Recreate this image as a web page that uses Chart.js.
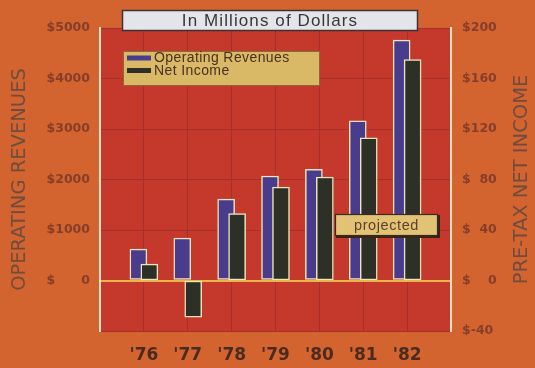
<!DOCTYPE html>
<html><head><meta charset="utf-8">
<script src="https://cdn.jsdelivr.net/npm/chart.js@4"></script>
<style>html,body{margin:0;padding:0;background:#d3642f;overflow:hidden}#wrap{width:535px;height:368px}</style>
</head><body><div id="wrap"><canvas id="c" width="535" height="368"></canvas></div>
<script>
const years = ["'76", "'77", "'78", "'79", "'80", "'81", "'82"];
const revenues = [620, 840, 1610, 2070, 2200, 3160, 4760];
const netIncome = [13, -29, 53, 74, 82, 113, 175];
const leftTickLabels = ['', '$      0', '$1000', '$2000', '$3000', '$4000', '$5000'];
const rightTickLabels = ['$-40', '$    0', '$  40', '$  80', '$120', '$160', '$200'];
const seriesLabels = ['Operating Revenues', 'Net Income'];
const titleText = 'In Millions of Dollars';
const leftAxisTitle = 'OPERATING REVENUES';
const rightAxisTitle = 'PRE-TAX NET INCOME';
const noteText = 'projected';

const BLUE = '#4a3c8c', DARK = '#2c3027', EDGE = '#efe4b8';
const GRID = '#a8302a', PLOT = '#c4392c';
const OFF = 0.125;

const decor = {
  id: 'decor',
  beforeDraw(chart) {
    const {ctx, chartArea: a} = chart;
    ctx.save();
    ctx.fillStyle = PLOT;
    ctx.fillRect(a.left, a.top, a.right - a.left, a.bottom - a.top);
    ctx.restore();
  },
  afterDatasetsDraw(chart) {
    const {ctx} = chart;
    ctx.save();
    const x = 335, y = 214, w = 103, h = 22;
    ctx.fillStyle = '#3a2418';
    ctx.fillRect(x + 1, y + 1, w + 1, h + 1);
    ctx.fillStyle = '#e2c274';
    ctx.fillRect(x, y, w, h);
    ctx.strokeStyle = '#3a2a20';
    ctx.lineWidth = 1.2;
    ctx.strokeRect(x + 0.5, y + 0.5, w - 1, h - 1);
    ctx.fillStyle = '#5e3e2c';
    ctx.font = '14.5px "Liberation Sans"';
    ctx.letterSpacing = '0.6px';
    ctx.textAlign = 'center';
    ctx.textBaseline = 'middle';
    ctx.fillText(noteText, x + w / 2, y + h / 2 + 0.5);
    ctx.restore();
  },
  afterDraw(chart) {
    const {ctx} = chart;
    ctx.save();
    ctx.fillStyle = '#e3e5ea';
    ctx.fillRect(122, 10, 296, 21);
    ctx.strokeStyle = '#3c3232';
    ctx.lineWidth = 1.5;
    ctx.strokeRect(122.5, 10.5, 295, 20);
    ctx.fillStyle = '#3a3636';
    ctx.font = '17px "Liberation Sans"';
    ctx.letterSpacing = '1.1px';
    ctx.textAlign = 'center';
    ctx.textBaseline = 'middle';
    ctx.fillText(titleText, 270, 21);
    ctx.letterSpacing = '0.4px';
    ctx.fillStyle = '#d9b866';
    ctx.fillRect(123, 51, 197, 35);
    ctx.strokeStyle = '#8a6838';
    ctx.lineWidth = 1;
    ctx.strokeRect(123.5, 51.5, 196, 34);
    const ds = chart.data.datasets;
    ctx.font = '14px "Liberation Sans"';
    ctx.textAlign = 'left';
    ds.forEach((d, i) => {
      const yy = 58 + i * 12.5;
      ctx.fillStyle = d.backgroundColor;
      ctx.fillRect(127, yy - 2.5, 24, 5);
      ctx.fillStyle = '#4a3020';
      ctx.fillText(d.label, 154, yy + 0.5);
    });
    ctx.letterSpacing = '0px';
    ctx.translate(522, (chart.chartArea.top + chart.chartArea.bottom) / 2);
    ctx.rotate(-Math.PI / 2);
    ctx.font = '19.5px "DejaVu Sans"';
    ctx.fillStyle = '#6f4c3e';
    ctx.textAlign = 'center';
    ctx.textBaseline = 'middle';
    ctx.fillText(rightAxisTitle, 0, 0);
    ctx.restore();
  }
};

const tickFont = {family: 'DejaVu Sans', size: 12.5, weight: 'bold'};

new Chart(document.getElementById('c'), {
  type: 'bar',
  data: {
    datasets: [
      {
        label: seriesLabels[0],
        data: revenues.map((v, i) => ({x: i + 1 - OFF, y: v})),
        yAxisID: 'y',
        backgroundColor: BLUE,
        borderColor: EDGE,
        borderWidth: 1.5,
        borderSkipped: false,
        barThickness: 17,
        grouped: false,
        order: 1
      },
      {
        label: seriesLabels[1],
        data: netIncome.map((v, i) => ({x: i + 1 + OFF, y: v})),
        yAxisID: 'y1',
        backgroundColor: DARK,
        borderColor: EDGE,
        borderWidth: 1.5,
        borderSkipped: false,
        barThickness: 17,
        grouped: false,
        order: 0
      }
    ]
  },
  options: {
    responsive: false,
    devicePixelRatio: 1,
    animation: false,
    layout: {padding: {top: 28, left: 0, right: 0, bottom: 0}},
    plugins: {legend: {display: false}, tooltip: {enabled: false}, title: {display: false}},
    scales: {
      x: {
        type: 'linear', position: 'bottom', min: 0, max: 8, offset: false,
        ticks: {
          stepSize: 1, autoSkip: false, maxRotation: 0,
          callback: v => years[v - 1] ?? '',
          font: {family: 'DejaVu Sans', size: 17, weight: 'bold'},
          color: '#4b2b20', padding: 14
        },
        grid: {
          offset: false,
          color: c => (c.tick && (c.tick.value === 0 || c.tick.value === 8)) ? 'rgba(0,0,0,0)' : GRID,
          lineWidth: 1, drawTicks: false
        },
        border: {display: false},
        afterFit: s => { s.height = 37; }
      },
      y: {
        position: 'left', min: -1000, max: 5000,
        ticks: {stepSize: 1000, callback: (v, i) => leftTickLabels[i], font: tickFont, color: '#863e2a', padding: 10},
        grid: {
          color: c => (c.tick && c.tick.value === 0) ? '#eab44a' : GRID,
          lineWidth: c => (c.tick && c.tick.value === 0) ? 2 : 1,
          drawTicks: false
        },
        border: {display: true, color: '#f1e4c6', width: 2},
        title: {display: true, text: leftAxisTitle, font: {family: 'DejaVu Sans', size: 19.5}, color: '#6f4c3e', padding: {top: 8, bottom: 0}},
        afterFit: s => { s.width = 100; }
      },
      y1: {
        position: 'right', min: -40, max: 200,
        ticks: {stepSize: 40, callback: (v, i) => rightTickLabels[i], font: tickFont, color: '#863e2a', padding: 11},
        grid: {drawOnChartArea: false, drawTicks: false},
        border: {display: true, color: '#f1e4c6', width: 2},
        afterFit: s => { s.width = 84; }
      }
    }
  },
  plugins: [decor]
});
</script>
</body></html>
